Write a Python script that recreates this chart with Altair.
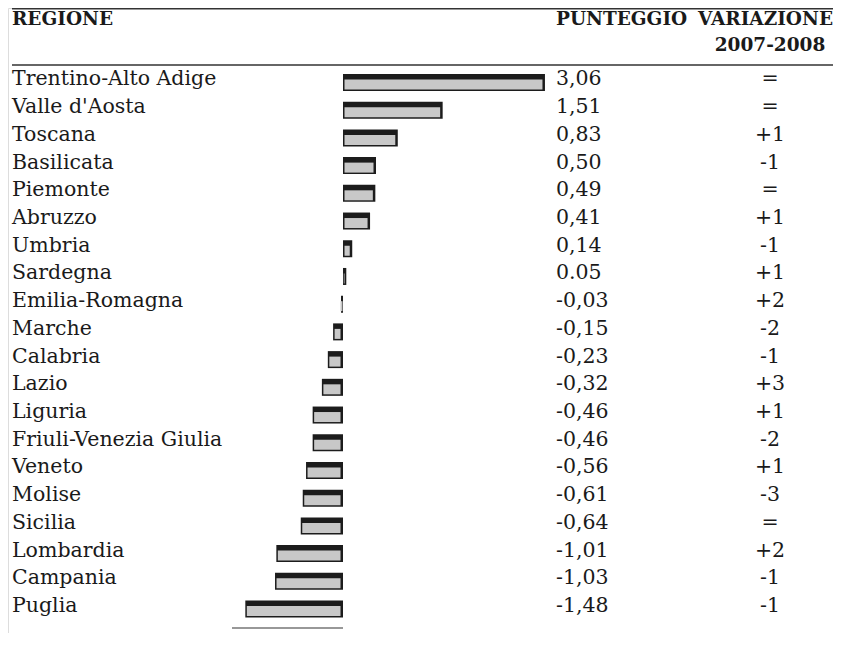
import altair as alt
import pandas as pd

regions = ["Trentino-Alto Adige", "Valle d'Aosta", "Toscana", "Basilicata", "Piemonte",
           "Abruzzo", "Umbria", "Sardegna", "Emilia-Romagna", "Marche", "Calabria", "Lazio",
           "Liguria", "Friuli-Venezia Giulia", "Veneto", "Molise", "Sicilia", "Lombardia",
           "Campania", "Puglia"]
scores = [3.06, 1.51, 0.83, 0.50, 0.49, 0.41, 0.14, 0.05, -0.03, -0.15, -0.23, -0.32,
          -0.46, -0.46, -0.56, -0.61, -0.64, -1.01, -1.03, -1.48]
score_labels = ["3,06", "1,51", "0,83", "0,50", "0,49", "0,41", "0,14", "0.05", "-0,03",
                "-0,15", "-0,23", "-0,32", "-0,46", "-0,46", "-0,56", "-0,61", "-0,64",
                "-1,01", "-1,03", "-1,48"]
variations = ["=", "=", "+1", "-1", "=", "+1", "-1", "+1", "+2", "-2", "-1", "+3", "+1",
              "-2", "+1", "-3", "=", "+2", "-1", "-1"]

df = pd.DataFrame({"regione": regions, "punteggio": scores,
                   "label": score_labels, "var": variations})

FONT = "DejaVu Serif"
FS = 20.5
HFS = 18.5
W, H = 825, 625
TXT = "#1a1a1a"

yenc = alt.Y("regione:N", sort=regions, axis=None,
             scale=alt.Scale(domain=regions, range=[60.6, 614.9], paddingInner=0, paddingOuter=0))
xscale = alt.Scale(domain=[-1.5, 3.1], range=[236, 539.6], zero=False, nice=False)

base = alt.Chart(df).transform_calculate(
    lo="min(datum.punteggio, 0)", hi="max(datum.punteggio, 0)")

dark = base.mark_bar(color="#1c1c1c", size=17).encode(
    x=alt.X("lo:Q", scale=xscale, axis=None), x2="hi:Q", y=yenc)
gray = base.mark_bar(color="#c8c8c8", size=10, yOffset=2, xOffset=1.5, x2Offset=-2.5).encode(
    x=alt.X("lo:Q", scale=xscale, axis=None), x2="hi:Q", y=yenc)

names = alt.Chart(df).mark_text(font=FONT, fontSize=FS, align="left", baseline="middle",
                                dy=-3, color=TXT).encode(
    x=alt.value(4), y=yenc, text="regione:N")
vals = alt.Chart(df).mark_text(font=FONT, fontSize=FS, align="left", baseline="middle",
                               dy=-3, color=TXT).encode(
    x=alt.value(548), y=yenc, text="label:N")
varis = alt.Chart(df).mark_text(font=FONT, fontSize=FS, align="center", baseline="middle",
                                dy=-3, color=TXT).encode(
    x=alt.value(762), y=yenc, text="var:N")

hdr = alt.Chart(pd.DataFrame({"a": [0]}))
h1 = hdr.mark_text(font=FONT, fontSize=HFS, fontWeight="bold", align="left", baseline="middle",
                   color=TXT).encode(x=alt.value(4), y=alt.value(11), text=alt.value("REGIONE"))
h2 = hdr.mark_text(font=FONT, fontSize=HFS, fontWeight="bold", align="left", baseline="middle",
                   color=TXT).encode(x=alt.value(548), y=alt.value(11), text=alt.value("PUNTEGGIO"))
h3 = hdr.mark_text(font=FONT, fontSize=HFS, fontWeight="bold", align="right", baseline="middle",
                   color=TXT).encode(x=alt.value(825), y=alt.value(11), text=alt.value("VARIAZIONE"))
h4 = hdr.mark_text(font=FONT, fontSize=HFS, fontWeight="bold", align="center", baseline="middle",
                   color=TXT).encode(x=alt.value(762), y=alt.value(37), text=alt.value("2007-2008"))

r1 = hdr.mark_rule(color="#333333", strokeWidth=1.5).encode(
    x=alt.value(4), x2=alt.value(825), y=alt.value(0.75))
r2 = hdr.mark_rule(color="#333333", strokeWidth=1.5).encode(
    x=alt.value(4), x2=alt.value(825), y=alt.value(57))
r3 = hdr.mark_rule(color="#333333", strokeWidth=1.2).encode(
    x=alt.value(224), x2=alt.value(335), y=alt.value(620))

chart = alt.layer(r1, r2, r3, dark, gray, names, vals, varis, h1, h2, h3, h4).properties(
    width=W, height=H, padding=0, autosize=alt.AutoSizeParams(type="none")
).configure_view(stroke=None).configure(background="white")

chart.save("out.html", embed_options={"renderer": "svg", "actions": False})
